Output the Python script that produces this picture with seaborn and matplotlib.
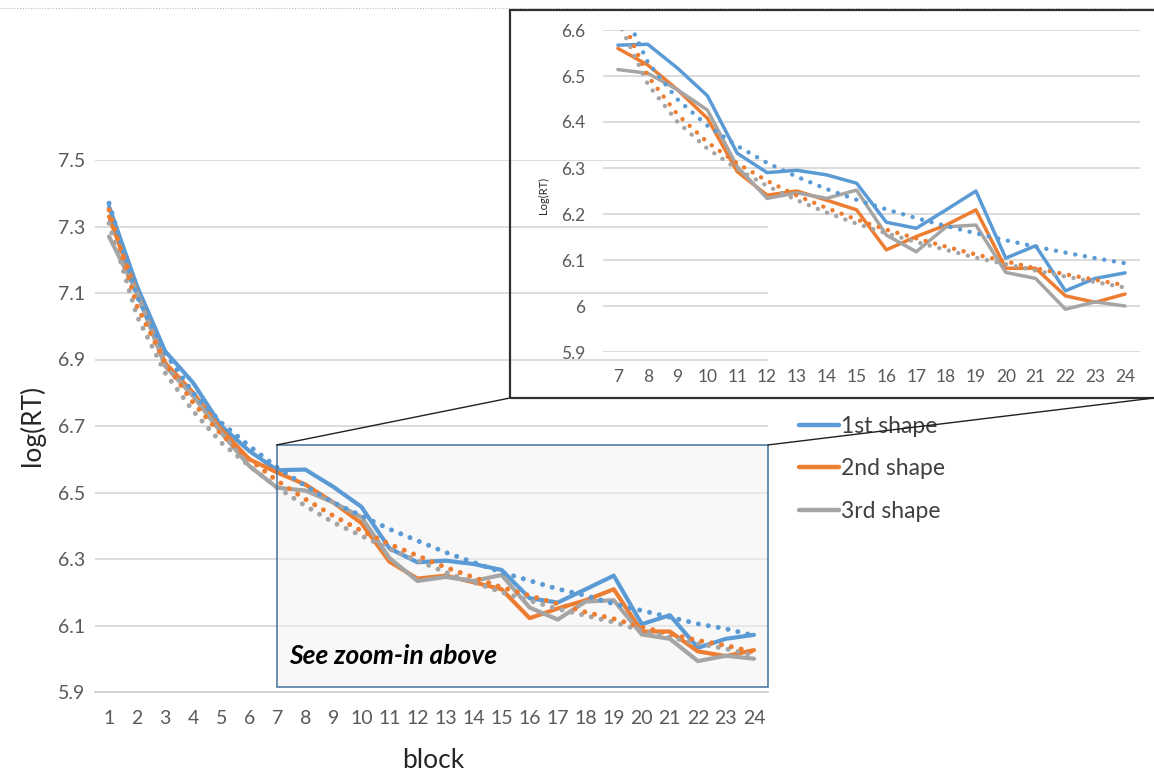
import pandas as pd
import matplotlib.pyplot as plt
import seaborn as sns
from matplotlib.patches import Rectangle, ConnectionPatch
from matplotlib.lines import Line2D

# values
BLOCKS = list(range(1, 25))
SHAPES = ["1st shape", "2nd shape", "3rd shape"]
COLORS = ["#5B9BD5", "#ED7D31", "#A5A5A5"]

SHAPE1 = [7.36, 7.12, 6.925, 6.83, 6.70, 6.625, 6.567, 6.569, 6.517, 6.457, 6.332, 6.290,
          6.295, 6.285, 6.267, 6.182, 6.169, 6.209, 6.250, 6.104, 6.131, 6.033, 6.060, 6.072]
SHAPE2 = [7.33, 7.10, 6.89, 6.80, 6.69, 6.60, 6.560, 6.524, 6.470, 6.408, 6.292, 6.241,
          6.250, 6.230, 6.209, 6.122, 6.151, 6.176, 6.209, 6.082, 6.082, 6.022, 6.008, 6.026]
SHAPE3 = [7.27, 7.10, 6.88, 6.79, 6.68, 6.58, 6.514, 6.506, 6.470, 6.426, 6.303, 6.234,
          6.246, 6.234, 6.252, 6.154, 6.118, 6.172, 6.176, 6.073, 6.060, 5.993, 6.009, 6.000]

# dotted trend lines in the main chart (blocks 1-24)
TREND1 = [7.37, 7.09, 6.92, 6.80, 6.71, 6.64, 6.575, 6.52, 6.47, 6.43, 6.39, 6.355,
          6.32, 6.29, 6.26, 6.235, 6.21, 6.19, 6.165, 6.145, 6.125, 6.105, 6.09, 6.07]
TREND2 = [7.35, 7.06, 6.89, 6.77, 6.675, 6.60, 6.535, 6.48, 6.43, 6.385, 6.345, 6.31,
          6.275, 6.245, 6.215, 6.19, 6.165, 6.14, 6.12, 6.095, 6.075, 6.055, 6.04, 6.02]
TREND3 = [7.31, 7.03, 6.86, 6.745, 6.65, 6.58, 6.515, 6.46, 6.41, 6.37, 6.33, 6.295,
          6.26, 6.23, 6.20, 6.175, 6.15, 6.13, 6.11, 6.085, 6.065, 6.045, 6.03, 6.01]

# dotted trend lines in the zoom-in (blocks 7-24)
ZOOM_BLOCKS = list(range(7, 25))
ZTREND1 = [6.668, 6.530, 6.449, 6.392, 6.348, 6.311, 6.281, 6.254, 6.231,
           6.210, 6.191, 6.174, 6.158, 6.143, 6.129, 6.116, 6.104, 6.093]
ZTREND2 = [6.643, 6.500, 6.416, 6.356, 6.310, 6.272, 6.240, 6.213, 6.188,
           6.166, 6.147, 6.129, 6.112, 6.097, 6.082, 6.069, 6.057, 6.045]
ZTREND3 = [6.621, 6.482, 6.400, 6.342, 6.298, 6.261, 6.230, 6.203, 6.179,
           6.158, 6.139, 6.122, 6.105, 6.091, 6.077, 6.064, 6.052, 6.040]

MAIN_YTICKS = [5.9, 6.1, 6.3, 6.5, 6.7, 6.9, 7.1, 7.3, 7.5]
ZOOM_YTICKS = [5.9, 6.0, 6.1, 6.2, 6.3, 6.4, 6.5, 6.6]
ZOOM_YLABELS = ["5.9", "6", "6.1", "6.2", "6.3", "6.4", "6.5", "6.6"]


def long_df(blocks, series):
    rows = []
    for name, vals in zip(SHAPES, series):
        for b, v in zip(blocks, vals):
            rows.append({"block": b, "logRT": v, "shape": name})
    return pd.DataFrame(rows)


solid = long_df(BLOCKS, [SHAPE1, SHAPE2, SHAPE3])
trend = long_df(BLOCKS, [TREND1, TREND2, TREND3])
zsolid = solid[solid["block"] >= 7]
ztrend = long_df(ZOOM_BLOCKS, [ZTREND1, ZTREND2, ZTREND3])
palette = dict(zip(SHAPES, COLORS))

sns.set_style("white")
plt.rcParams["font.family"] = ["Lato", "DejaVu Sans"]

W, H = 1154, 771
fig = plt.figure(figsize=(W / 100, H / 100), dpi=100)


def draw_lines(ax, sdf, tdf, lw, dot_lw, gap):
    sns.lineplot(data=sdf, x="block", y="logRT", hue="shape", palette=palette,
                 lw=lw, ax=ax, legend=False, errorbar=None, zorder=3)
    for name in [SHAPES[2], SHAPES[0], SHAPES[1]]:
        sub = tdf[tdf["shape"] == name]
        sns.lineplot(data=sub, x="block", y="logRT", color=palette[name],
                     lw=dot_lw, linestyle=(0, (0.01, gap)), dash_capstyle="round",
                     ax=ax, legend=False, errorbar=None, zorder=4)


def style_axes(ax, yticks, ylabels, xticks, ysize, pad_y, pad_x):
    ax.set_facecolor("none")
    for s in ["top", "right", "left"]:
        ax.spines[s].set_visible(False)
    ax.spines["bottom"].set_color("#d0d0d0")
    ax.spines["bottom"].set_linewidth(1.3)
    ax.set_yticks(yticks)
    ax.set_yticklabels(ylabels)
    ax.set_xticks(xticks)
    ax.set_xticklabels([str(b) for b in xticks])
    ax.yaxis.grid(True, color="#d9d9d9", lw=1.3, zorder=0)
    ax.xaxis.grid(False)
    ax.tick_params(axis="both", length=0, colors="#595959", labelsize=ysize)
    ax.tick_params(axis="y", pad=pad_y)
    ax.tick_params(axis="x", pad=pad_x)
    ax.set_xlabel("")
    ax.set_ylabel("")


# main chart
ax = fig.add_axes([95 / W, 1 - 692 / H, 673 / W, 532 / H])
draw_lines(ax, solid, trend, 3.0, 3.6, 2.0)
ax.set_xlim(0.5, 24.5)
ax.set_ylim(5.9, 7.5)
style_axes(ax, MAIN_YTICKS, [f"{t:.1f}" for t in MAIN_YTICKS], BLOCKS, 14, 7, 13)

# shaded zoom region
zx0, zy0, zy1 = 6.98, 5.915, 6.643
ax.add_patch(Rectangle((zx0, zy0), 24.5 - zx0, zy1 - zy0, facecolor="#f2f2f2", alpha=0.5,
                       edgecolor="none", zorder=1))
ax.add_patch(Rectangle((zx0, zy0), 24.5 - zx0, zy1 - zy0, facecolor="none",
                       edgecolor="#41719C", lw=1.1, zorder=5, clip_on=False))
ax.text(7.42, 5.983, "See zoom-in above", fontsize=19, fontweight="bold", fontstyle="italic",
        color="black", zorder=6)

fig.text(32 / W, 1 - 425 / H, "log(RT)", rotation=90, fontsize=19, ha="center", va="center")
fig.text(433 / W, 1 - 760 / H, "block", fontsize=19, ha="center", va="center")

# inset
iax = fig.add_axes([603 / W, 1 - 352 / H, 537 / W, 322 / H])
draw_lines(iax, zsolid, ztrend, 2.5, 3.2, 2.2)
iax.set_xlim(6.5, 24.5)
iax.set_ylim(5.9, 6.6)
style_axes(iax, ZOOM_YTICKS, ZOOM_YLABELS, ZOOM_BLOCKS, 12.5, 13, 12)
iax.spines["bottom"].set_visible(False)
fig.text(543 / W, 1 - 195 / H, "Log(RT)", rotation=90, fontsize=8, ha="center", va="center")

fig.add_artist(Rectangle((510 / W, 1 - 398 / H), 700 / W, 388 / H, transform=fig.transFigure,
                         fill=False, edgecolor="#303030", lw=1.6, zorder=10))

# connector lines
for xa, xb in [(zx0, 510 / W), (24.5, 1.0)]:
    fig.add_artist(ConnectionPatch(xyA=(xa, zy1), coordsA=ax.transData,
                                   xyB=(xb, 1 - 398 / H), coordsB=fig.transFigure,
                                   color="#202020", lw=1.0, zorder=11))

# faint page border line at the top
fig.add_artist(Line2D([0, 1], [1 - 8 / H, 1 - 8 / H], transform=fig.transFigure,
                      color="#b8b8b8", lw=0.8, linestyle=(0, (1, 1.5))))

handles = [Line2D([], [], color=c, lw=3.2) for c in COLORS]
leg = fig.legend(handles, SHAPES, loc="upper left", bbox_to_anchor=(778 / W, 1 - 395 / H),
                 frameon=False, fontsize=16.5, handlelength=1.75, handletextpad=0.1,
                 labelspacing=0.95)
for t in leg.get_texts():
    t.set_color("#404040")

fig.savefig("out.png", dpi=100)
